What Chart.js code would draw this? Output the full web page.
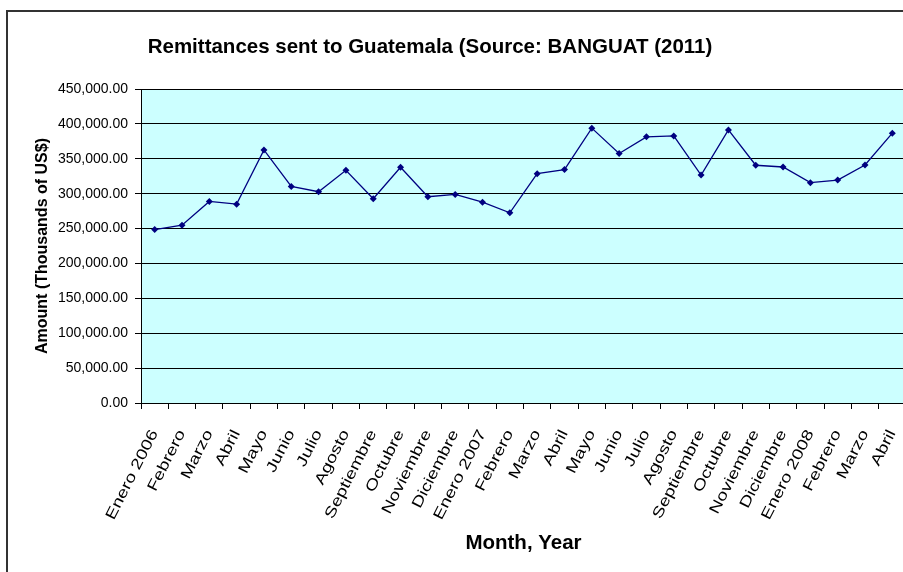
<!DOCTYPE html>
<html>
<head>
<meta charset="utf-8">
<title>Remittances sent to Guatemala</title>
<script src="https://cdn.jsdelivr.net/npm/chart.js@4.4.1/dist/chart.umd.min.js"></script>
<style>
  html, body { margin: 0; padding: 0; background: #fff; overflow: hidden; }
  #wrap { position: relative; width: 903px; height: 572px; overflow: hidden; }
  #chart { position: absolute; left: 0; top: 0; }
  #frame { position: absolute; left: 6px; top: 10px; width: 1000px; height: 700px;
           border: 2px solid #333; pointer-events: none; }
</style>
</head>
<body>
<div id="wrap">
  <canvas id="chart" width="920" height="572"></canvas>
  <div id="frame"></div>
</div>
<script>
const FONT = "'Liberation Sans', Arial, sans-serif";

const chartTitle = 'Remittances sent to Guatemala (Source: BANGUAT (2011)';
const xTitle = 'Month, Year';
const yTitle = 'Amount (Thousands of US$)';

const months = [
    'Enero 2006', 'Febrero', 'Marzo', 'Abril', 'Mayo', 'Junio', 'Julio', 'Agosto',
    'Septiembre', 'Octubre', 'Noviembre', 'Diciembre',
    'Enero 2007', 'Febrero', 'Marzo', 'Abril', 'Mayo', 'Junio', 'Julio', 'Agosto',
    'Septiembre', 'Octubre', 'Noviembre', 'Diciembre',
    'Enero 2008', 'Febrero', 'Marzo', 'Abril'
];

// thousands of US$
const remittances = [
    248600, 254800, 288900, 285000, 362700, 310400, 302800, 333500,
    292700, 337800, 295600, 298900,
    287800, 272600, 328700, 334500, 393900, 357500, 381400, 382800,
    326700, 391400, 340700, 338200,
    315800, 319500, 341100, 386700
];

const yMin = 0;
const yMax = 450000;
const yStep = 50000;

// slanted month labels, lettering drawn a little wide along the baseline
const LABEL_ANGLE = 63 * Math.PI / 180;
const LABEL_WIDEN = 1.27;

const plotBackground = {
    id: 'plotBackground',
    beforeDraw(chart) {
        const { ctx, chartArea: a } = chart;
        ctx.save();
        ctx.fillStyle = '#CCFFFF';
        ctx.fillRect(a.left, a.top, a.right - a.left, a.bottom - a.top);
        ctx.strokeStyle = '#808080';
        ctx.lineWidth = 1;
        ctx.strokeRect(a.left + 0.5, a.top + 0.5, a.right - a.left, a.bottom - a.top);
        ctx.restore();
    },
    afterDraw(chart) {
        const ctx = chart.ctx;
        const xs = chart.scales.x;
        ctx.save();
        ctx.fillStyle = '#000';

        ctx.font = 'bold 20.5px ' + FONT;
        ctx.textAlign = 'center';
        ctx.textBaseline = 'middle';
        ctx.fillText(chartTitle, 430, 47);

        ctx.font = '15px ' + FONT;
        ctx.textAlign = 'right';
        months.forEach((m, i) => {
            ctx.save();
            ctx.translate(xs.getPixelForTick(i), xs.top + 28);
            ctx.rotate(-LABEL_ANGLE);
            ctx.scale(LABEL_WIDEN, 1);
            ctx.fillText(m, 0, 0);
            ctx.restore();
        });
        ctx.restore();
    }
};

const ctx = document.getElementById('chart').getContext('2d');

new Chart(ctx, {
    type: 'line',
    data: {
        labels: months,
        datasets: [{
            label: 'Remittances',
            data: remittances,
            borderColor: '#000080',
            borderWidth: 1.3,
            tension: 0,
            pointStyle: 'rectRot',
            pointRadius: 3.5,
            pointBackgroundColor: '#000080',
            pointBorderColor: '#000080',
            pointBorderWidth: 0
        }]
    },
    options: {
        responsive: false,
        animation: false,
        layout: {
            padding: { top: 89, right: 14, bottom: 0, left: 0 }
        },
        plugins: {
            legend: { display: false },
            title: { display: false },
            tooltip: { enabled: false }
        },
        scales: {
            x: {
                offset: true,
                afterFit: scale => { scale.height = 169; },
                grid: {
                    offset: true,
                    drawOnChartArea: false,
                    drawTicks: true,
                    tickLength: 6,
                    color: '#000'
                },
                border: { color: '#000', width: 1 },
                ticks: {
                    autoSkip: false,
                    minRotation: 0,
                    maxRotation: 0,
                    color: 'transparent',
                    font: { family: FONT, size: 1 }
                },
                title: {
                    display: true,
                    text: xTitle,
                    color: '#000',
                    font: { family: FONT, size: 20.5, weight: 'bold' },
                    padding: { top: 0, bottom: 16.5 }
                }
            },
            y: {
                min: yMin,
                max: yMax,
                afterFit: scale => { scale.width = 141; },
                grid: {
                    color: '#000',
                    lineWidth: 1,
                    drawTicks: true,
                    tickLength: 6
                },
                border: { color: '#000', width: 1 },
                ticks: {
                    stepSize: yStep,
                    padding: 7,
                    color: '#000',
                    font: { family: FONT, size: 14 },
                    callback: v => v.toLocaleString('en-US', { minimumFractionDigits: 2, maximumFractionDigits: 2 })
                },
                title: {
                    display: true,
                    text: yTitle,
                    color: '#000',
                    font: { family: FONT, size: 16, weight: 'bold' },
                    padding: { top: 33, bottom: 0 }
                }
            }
        }
    },
    plugins: [plotBackground]
});
</script>
</body>
</html>
